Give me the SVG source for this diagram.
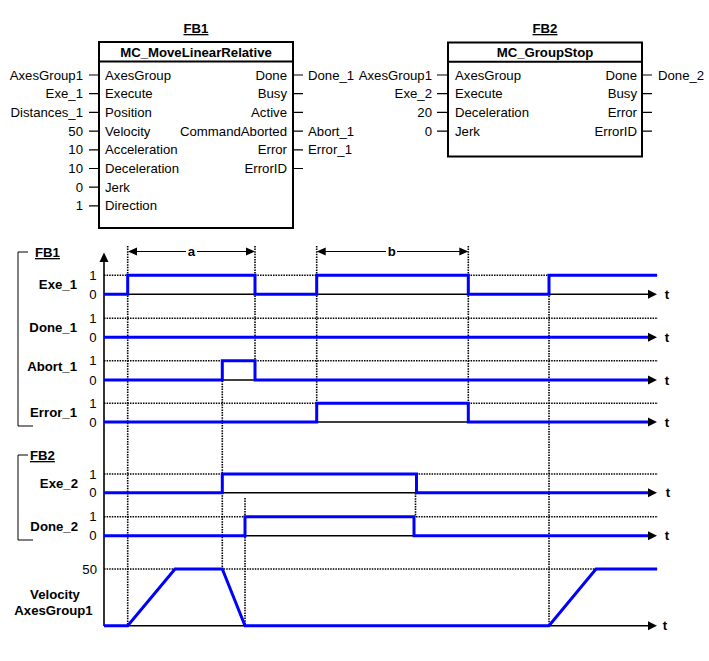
<svg xmlns="http://www.w3.org/2000/svg" width="709" height="661" viewBox="0 0 709 661">
<style>
text{font-family:"Liberation Sans",Arial,sans-serif;font-size:13.2px;fill:#000}
.b{font-weight:bold}
.r{text-anchor:end}
.m{text-anchor:middle}
.u{text-decoration:underline}
.box{fill:#fff;stroke:#000;stroke-width:2}
.stub{stroke:#000;stroke-width:1.2;fill:none}
.dot{stroke:#000;stroke-width:1.6;stroke-dasharray:1.5,1.1;fill:none}
.ax{stroke:#000;stroke-width:1.6;fill:none}
.sig{stroke:#0000ff;stroke-width:3;fill:none;stroke-linejoin:miter}
.thin{stroke:#000;stroke-width:1;fill:none}
</style>
<defs>
<path id="tarr" d="M0,0 L-9,-4.5 L-9,4.5 Z" fill="#000"/>
</defs>
<rect width="709" height="661" fill="#fff"/>

<g id="FB1">
<text x="196" y="33" class="b m u">FB1</text>
<rect x="99" y="42" width="194" height="186" class="box"/>
<line x1="99" y1="61.5" x2="293" y2="61.5" stroke="#000" stroke-width="2"/>
<text x="196" y="56.5" class="b m">MC_MoveLinearRelative</text>
<text x="105" y="79.5">AxesGroup</text>
<text x="105" y="98.2">Execute</text>
<text x="105" y="116.9">Position</text>
<text x="105" y="135.6">Velocity</text>
<text x="105" y="154.3">Acceleration</text>
<text x="105" y="173">Deceleration</text>
<text x="105" y="191.7">Jerk</text>
<text x="105" y="210.4">Direction</text>
<text x="287" y="79.5" class="r">Done</text>
<text x="287" y="98.2" class="r">Busy</text>
<text x="287" y="116.9" class="r">Active</text>
<text x="287" y="135.6" class="r">CommandAborted</text>
<text x="287" y="154.3" class="r">Error</text>
<text x="287" y="173" class="r">ErrorID</text>
<text x="83" y="79.5" class="r">AxesGroup1</text>
<text x="83" y="98.2" class="r">Exe_1</text>
<text x="83" y="116.9" class="r">Distances_1</text>
<text x="83" y="135.6" class="r">50</text>
<text x="83" y="154.3" class="r">10</text>
<text x="83" y="173" class="r">10</text>
<text x="83" y="191.7" class="r">0</text>
<text x="83" y="210.4" class="r">1</text>
<text x="308" y="79.5">Done_1</text>
<text x="308" y="135.6">Abort_1</text>
<text x="308" y="154.3">Error_1</text>
</g>

<g id="FB2">
<text x="545" y="33" class="b m u">FB2</text>
<rect x="448" y="42.5" width="194" height="114" class="box"/>
<line x1="448" y1="61.7" x2="642" y2="61.7" stroke="#000" stroke-width="2"/>
<text x="545" y="56.5" class="b m">MC_GroupStop</text>
<text x="455" y="79.5">AxesGroup</text>
<text x="455" y="98.2">Execute</text>
<text x="455" y="116.9">Deceleration</text>
<text x="455" y="135.6">Jerk</text>
<text x="637" y="79.5" class="r">Done</text>
<text x="637" y="98.2" class="r">Busy</text>
<text x="637" y="116.9" class="r">Error</text>
<text x="637" y="135.6" class="r">ErrorID</text>
<text x="432" y="79.5" class="r">AxesGroup1</text>
<text x="432" y="98.2" class="r">Exe_2</text>
<text x="432" y="116.9" class="r">20</text>
<text x="432" y="135.6" class="r">0</text>
<text x="658" y="79.5">Done_2</text>
</g>

<g id="connectors">
<path class="stub" d="M89,75H99M89,93.7H99M89,112.4H99M89,131.1H99M89,149.8H99M89,168.5H99M89,187.2H99M89,205.9H99"/>
<path class="stub" d="M293,75H303M293,93.7H303M293,112.4H303M293,131.1H303M293,149.8H303M293,168.5H303"/>
<path class="stub" d="M437,75H448M437,93.7H448M437,112.4H448M437,131.1H448"/>
<path class="stub" d="M642,75H652M642,93.7H652M642,112.4H652M642,131.1H652"/>
</g>

<g id="timing">
<g id="brackets">
<path class="thin" d="M28,252H18V426H33"/>
<text x="35" y="257" class="b u">FB1</text>
<path class="thin" d="M28,455H18V540H33"/>
<text x="30" y="460" class="b u">FB2</text>
</g>

<g id="gridlines">
<path class="dot" d="M104,275.3H658M104,318.3H658M104,360.7H658M104,403.3H658M104,474H658M104,516.7H658M104,569H658"/>
<path class="dot" d="M127.7,246V626M255,246V380M222.3,360V569M316.7,246V403M468.3,246V422M549,275V626M245,498V626M415.5,493V517"/>
</g>

<g id="dims">
<path class="thin" d="M134,251.5H186M197,251.5H249"/>
<path d="M128,251.5L137,247.5V255.5Z M255,251.5L246,247.5V255.5Z" fill="#000"/>
<text x="191.5" y="256" class="b m">a</text>
<path class="thin" d="M323,251.5H386M397,251.5H462"/>
<path d="M316.7,251.5L325.7,247.5V255.5Z M468.3,251.5L459.3,247.5V255.5Z" fill="#000"/>
<text x="391.7" y="256" class="b m">b</text>
</g>

<g id="axes">
<path class="ax" d="M104,260V626"/>
<path d="M104,252.5L99.5,262H108.5Z" fill="#000"/>
<path class="ax" d="M104,294.3H650M104,337.3H650M104,380H650M104,422H650M104,492.7H650M104,535.7H650M104,625.7H650"/>
</g>

<g id="signals">
<path class="sig" d="M104,294.3H127.7V275.3H255V294.3H316.7V275.3H468.3V294.3H549V275.3H657"/>
<path class="sig" d="M104,337.3H651"/>
<path class="sig" d="M104,380H222.3V360.7H255V380H651"/>
<path class="sig" d="M104,422H316.7V403.3H468.3V422H651"/>
<path class="sig" d="M104,492.7H222.3V474H416.5V492.7H651"/>
<path class="sig" d="M104,535.7H245V516.7H414V535.7H651"/>
<path class="sig" d="M104,625.7H127.7L175,569H222.3L245,625.7H549L596,569H657"/>
</g>

<g id="arrowheads">
<use href="#tarr" x="657" y="294.3"/>
<use href="#tarr" x="657" y="337.3"/>
<use href="#tarr" x="657" y="380"/>
<use href="#tarr" x="657" y="422"/>
<use href="#tarr" x="657" y="492.7"/>
<use href="#tarr" x="657" y="535.7"/>
<use href="#tarr" x="657" y="625.7"/>
</g>

<g id="tlabels">
<text x="667" y="299" class="b m">t</text>
<text x="667" y="342" class="b m">t</text>
<text x="667" y="384.5" class="b m">t</text>
<text x="667" y="426.5" class="b m">t</text>
<text x="668" y="497.2" class="b m">t</text>
<text x="667" y="540.2" class="b m">t</text>
<text x="665" y="630.2" class="b m">t</text>
</g>

<g id="levels">
<text x="93" y="279.8" class="m">1</text>
<text x="93" y="298.8" class="m">0</text>
<text x="93" y="322.8" class="m">1</text>
<text x="93" y="341.8" class="m">0</text>
<text x="93" y="365.2" class="m">1</text>
<text x="93" y="384.5" class="m">0</text>
<text x="93" y="407.8" class="m">1</text>
<text x="93" y="426.5" class="m">0</text>
<text x="93" y="478.5" class="m">1</text>
<text x="93" y="497.2" class="m">0</text>
<text x="93" y="521.2" class="m">1</text>
<text x="93" y="540.2" class="m">0</text>
<text x="97" y="573.5" class="r">50</text>
</g>

<g id="signal-names">
<text x="77" y="288.5" class="b r">Exe_1</text>
<text x="77" y="331.5" class="b r">Done_1</text>
<text x="77" y="370.5" class="b r">Abort_1</text>
<text x="77" y="416.5" class="b r">Error_1</text>
<text x="78" y="488" class="b r">Exe_2</text>
<text x="78" y="530.5" class="b r">Done_2</text>
<text x="55" y="598.5" class="b m">Velocity</text>
<text x="53.5" y="614.5" class="b m">AxesGroup1</text>
</g>
</g>
</svg>
